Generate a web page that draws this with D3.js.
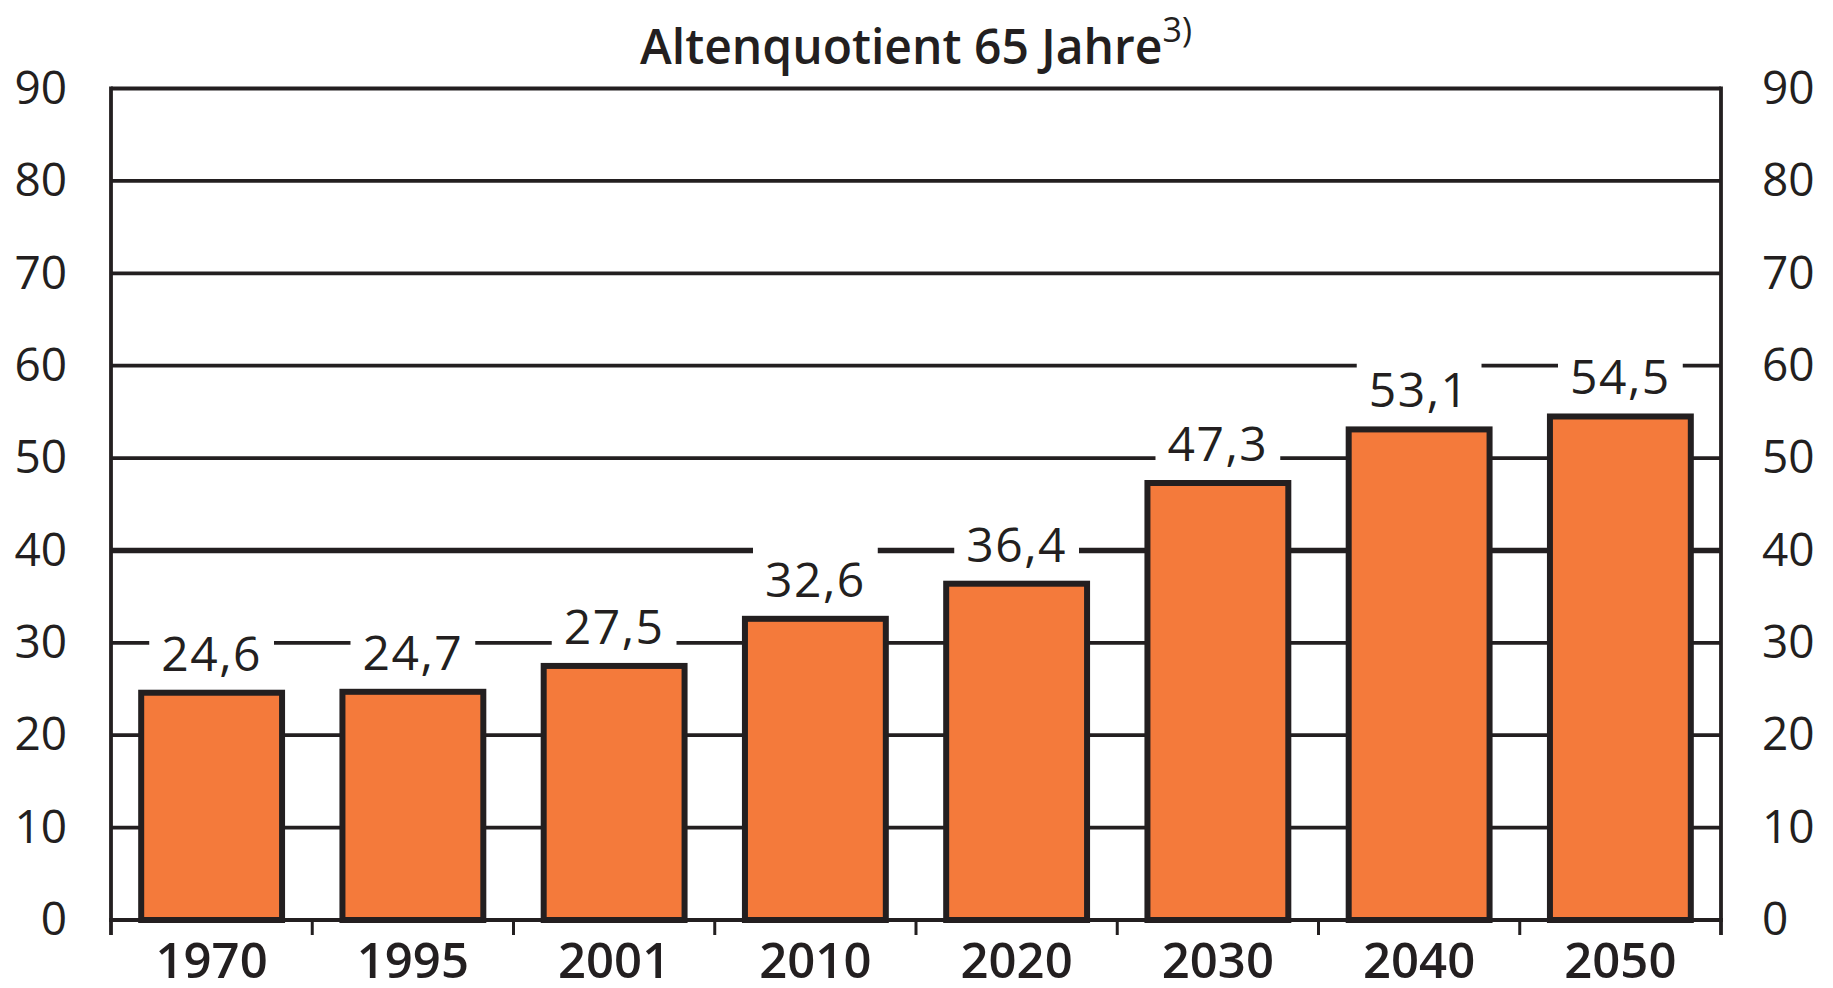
<!DOCTYPE html>
<html lang="de">
  <head>
    <meta charset="UTF-8" />
    <title>Altenquotient 65 Jahre</title>
    <script src="https://d3js.org/d3.v7.min.js"></script>
    <style>
      body {
        margin: 0;
        padding: 0;
        background-color: #fff;
      }
      svg {
        display: block;
        font-family: "Open Sans", "Noto Sans", sans-serif;
      }
    </style>
  </head>
  <body>
    <div id="chart"></div>

    <script>
      const width = 1833;
      const height = 988;

      // Daten
      const years = ["1970", "1995", "2001", "2010", "2020", "2030", "2040", "2050"];
      const values = [24.6, 24.7, 27.5, 32.6, 36.4, 47.3, 53.1, 54.5];
      const yTicks = [0, 10, 20, 30, 40, 50, 60, 70, 80, 90];
      const title = "Altenquotient 65 Jahre";
      const titleNote = "3)";

      const ink = "#231f20";
      const orange = "#f47a3b";

      const margin = { top: 88.5, right: 112, bottom: 68, left: 111 };

      const svg = d3.select("#chart").append("svg").attr("width", width).attr("height", height).attr("viewBox", [0, 0, width, height]);

      const x = d3
        .scaleBand()
        .domain(years)
        .range([margin.left, width - margin.right])
        .paddingInner(0.3)
        .paddingOuter(0.15);

      const y = d3
        .scaleLinear()
        .domain([0, 90])
        .range([height - margin.bottom, margin.top]);

      const fmt = (v) => d3.format(".1f")(v).replace(".", ",");

      // Gitterlinien
      svg
        .append("g")
        .selectAll("line")
        .data(yTicks.filter((d) => d > 0))
        .join("line")
        .attr("x1", margin.left)
        .attr("x2", width - margin.right)
        .attr("y1", (d) => y(d))
        .attr("y2", (d) => y(d))
        .attr("stroke", ink)
        .attr("stroke-width", (d) => (d === 40 ? 5.5 : 3.8));

      // Rahmen links / rechts, bis unter die Grundlinie
      svg
        .append("g")
        .selectAll("line")
        .data(x.range())
        .join("line")
        .attr("x1", (d) => d)
        .attr("x2", (d) => d)
        .attr("y1", y(90) - 1.9)
        .attr("y2", y(0) + 15)
        .attr("stroke", ink)
        .attr("stroke-width", 3.8);

      // Teilstriche zwischen den Kategorien
      const bounds = years.slice(1).map((d) => x(d) - (x.step() * x.paddingInner()) / 2);
      svg
        .append("g")
        .selectAll("line")
        .data(bounds)
        .join("line")
        .attr("x1", (d) => d)
        .attr("x2", (d) => d)
        .attr("y1", y(0))
        .attr("y2", y(0) + 15)
        .attr("stroke", ink)
        .attr("stroke-width", 3);

      // Wertebeschriftungen mit weißem Hintergrund (unterbricht die Gitterlinien)
      const labels = svg
        .append("g")
        .selectAll("g")
        .data(values)
        .join("g")
        .attr("transform", (d, i) => `translate(${x(years[i]) + x.bandwidth() / 2}, ${y(d) - 22})`);

      labels
        .append("text")
        .attr("text-anchor", "middle")
        .attr("font-size", 48)
        .attr("letter-spacing", 1.5)
        .attr("fill", ink)
        .text((d) => fmt(d));

      labels.each(function () {
        const g = d3.select(this);
        const bb = g.select("text").node().getBBox();
        g.insert("rect", "text")
          .attr("x", bb.x - 12)
          .attr("y", -52)
          .attr("width", bb.width + 24)
          .attr("height", 62)
          .attr("fill", "#fff");
      });

      // Säulen
      svg
        .append("g")
        .selectAll("rect")
        .data(values)
        .join("rect")
        .attr("x", (d, i) => x(years[i]))
        .attr("y", (d) => y(d))
        .attr("width", x.bandwidth())
        .attr("height", (d) => y(0) - y(d))
        .attr("fill", orange)
        .attr("stroke", ink)
        .attr("stroke-width", 6);

      // Grundlinie
      svg
        .append("line")
        .attr("x1", margin.left - 1.9)
        .attr("x2", width - margin.right + 1.9)
        .attr("y1", y(0))
        .attr("y2", y(0))
        .attr("stroke", ink)
        .attr("stroke-width", 4);

      // y-Achsen links und rechts
      const styleAxis = (g) => {
        g.select(".domain").remove();
        g.selectAll("text").attr("font-size", 46).attr("fill", ink).attr("font-family", "Open Sans, sans-serif");
      };

      svg
        .append("g")
        .attr("transform", `translate(${margin.left},0)`)
        .call(d3.axisLeft(y).tickValues(yTicks).tickSize(0).tickPadding(44))
        .call(styleAxis);

      svg
        .append("g")
        .attr("transform", `translate(${width - margin.right},0)`)
        .call(d3.axisRight(y).tickValues(yTicks).tickSize(0).tickPadding(41))
        .call(styleAxis);

      // x-Beschriftungen
      svg
        .append("g")
        .selectAll("text")
        .data(years)
        .join("text")
        .attr("x", (d) => x(d) + x.bandwidth() / 2)
        .attr("y", y(0) + 58)
        .attr("text-anchor", "middle")
        .attr("font-size", 49)
        .attr("font-weight", 600)
        .attr("fill", ink)
        .text((d) => d);

      // Titel
      const t = svg
        .append("text")
        .attr("x", (margin.left + width - margin.right) / 2)
        .attr("y", 64)
        .attr("text-anchor", "middle")
        .attr("font-size", 48)
        .attr("font-weight", 600)
        .attr("fill", ink);
      t.append("tspan").text(title);
      t.append("tspan").attr("dy", -22).attr("font-size", 34).attr("font-weight", 400).text(titleNote);
    </script>
  </body>
</html>
